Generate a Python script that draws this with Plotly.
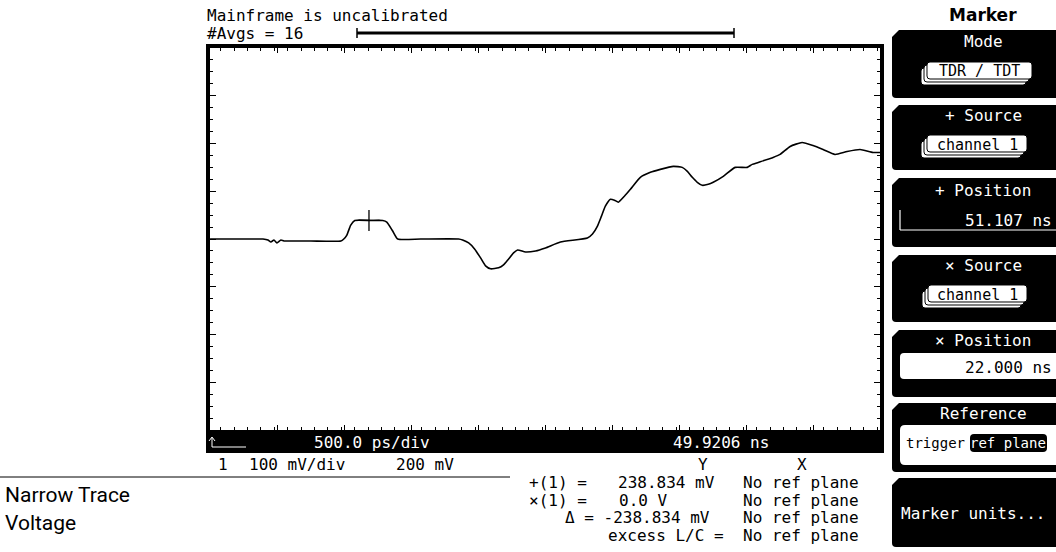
import plotly.graph_objects as go

W, H = 1056, 552

time_ns = [49.921, 50.241, 50.316, 50.353, 50.375, 50.398, 50.420, 50.450, 50.472, 50.524, 50.673, 50.897,
           50.919, 50.942, 50.971, 51.001, 51.120, 51.210, 51.240, 51.284, 51.322, 51.493, 51.776, 51.806,
           51.851, 51.895, 51.940, 51.977, 52.015, 52.074, 52.111, 52.149, 52.186, 52.216, 52.275, 52.350,
           52.424, 52.536, 52.737, 52.775, 52.812, 52.842, 52.871, 52.909, 52.939, 52.968, 53.013, 53.058,
           53.132, 53.207, 53.281, 53.378, 53.445, 53.483, 53.520, 53.557, 53.594, 53.639, 53.676, 53.751,
           53.840, 53.930, 53.967, 54.012, 54.123, 54.175, 54.250, 54.339, 54.421, 54.496, 54.585, 54.675,
           54.772, 54.868, 54.921]
volt_mv = [200.0, 200.0, 200.0, 197.9, 193.8, 197.9, 191.7, 197.9, 195.8, 195.8, 195.8, 195.8,
           200.0, 208.3, 229.2, 238.8, 238.8, 238.8, 235.4, 216.7, 200.0, 200.0, 200.0, 197.9,
           191.7, 179.2, 160.4, 143.8, 137.5, 139.6, 145.8, 158.3, 170.8, 177.1, 172.9, 175.0,
           181.3, 193.8, 202.1, 210.4, 227.1, 247.9, 268.8, 283.3, 281.3, 277.1, 289.6, 304.2,
           329.2, 339.6, 345.8, 352.1, 350.0, 341.7, 329.2, 318.8, 312.5, 314.6, 318.8, 331.3,
           350.0, 350.0, 356.3, 360.4, 370.8, 377.1, 393.8, 402.1, 395.8, 387.5, 377.1, 383.3,
           387.5, 381.3, 381.3]

marker_x_ns = 51.107
marker_y_mv = 238.834
x_start_ns = 49.9206
ns_per_div = 0.5
mv_per_div = 100
offset_mv = 200

MONO = "DejaVu Sans Mono"

# ---------------- helpers (pixel -> paper) ----------------
def X(x): return x / W
def Y(y): return 1 - y / H

shapes = []
anns = []

def text(s, x, y, anchor="left", color="black", size=16, family=MONO):
    anns.append(dict(text=s, x=X(x), y=Y(y), xref="paper", yref="paper", xanchor=anchor,
                     yanchor="middle", showarrow=False, borderpad=0,
                     font=dict(family=family, size=size, color=color)))

def line(x0, y0, x1, y1, color="black", width=1):
    shapes.append(dict(type="line", xref="paper", yref="paper", x0=X(x0), y0=Y(y0), x1=X(x1), y1=Y(y1),
                       line=dict(color=color, width=width), layer="above"))

def rect(x0, y0, x1, y1, fill="black", lc=None, lw=0):
    shapes.append(dict(type="rect", xref="paper", yref="paper", x0=X(x0), y0=Y(y0), x1=X(x1), y1=Y(y1),
                       fillcolor=fill, line=dict(color=lc or fill, width=lw), layer="above"))

def pt(x, y): return f"{X(x):.5f},{Y(y):.5f}"

def path(d, fill="black", lc=None, lw=0):
    shapes.append(dict(type="path", xref="paper", yref="paper", path=d, fillcolor=fill,
                       line=dict(color=lc or fill, width=lw), layer="above"))

def rrect(x0, y0, x1, y1, r=3, fill="white", lc="black", lw=1):
    d = (f"M{pt(x0 + r, y0)} L{pt(x1 - r, y0)} Q{pt(x1, y0)} {pt(x1, y0 + r)} "
         f"L{pt(x1, y1 - r)} Q{pt(x1, y1)} {pt(x1 - r, y1)} L{pt(x0 + r, y1)} "
         f"Q{pt(x0, y1)} {pt(x0, y1 - r)} L{pt(x0, y0 + r)} Q{pt(x0, y0)} {pt(x0 + r, y0)} Z")
    path(d, fill=fill, lc=lc, lw=lw)

def key(y0, y1, x0=892, x1=1060, c=7, r=4):
    d = (f"M{pt(x0 + c, y0)} L{pt(x1, y0)} L{pt(x1, y1)} L{pt(x0 + r, y1)} "
         f"Q{pt(x0, y1)} {pt(x0, y1 - r)} L{pt(x0, y0 + c)} Z")
    path(d, fill="black")

def stack_button(x0, y0, x1, y1, label):
    for off in (6, 3, 0):
        rrect(x0 - off, y0 + off, x1 - off, y1 + off, r=3, fill="white", lc="black", lw=1)
    text(label, (x0 + x1) / 2, (y0 + y1) / 2 + 1, anchor="center", size=15)

# ---------------- figure ----------------
fig = go.Figure()
fig.add_trace(go.Scatter(x=time_ns, y=volt_mv, mode="lines",
                         line=dict(color="black", width=1.6, shape="spline", smoothing=0.5),
                         hoverinfo="skip", showlegend=False))
fig.add_trace(go.Scatter(x=[marker_x_ns], y=[marker_y_mv], mode="markers",
                         marker=dict(symbol="cross-thin", size=15, line=dict(color="black", width=1.3)),
                         hoverinfo="skip", showlegend=False))

x_range = [x_start_ns, x_start_ns + 10 * ns_per_div]
y_range = [offset_mv - 4 * mv_per_div, offset_mv + 4 * mv_per_div]

PX0, PX1, PY0, PY1 = 210, 880, 48, 430

fig.update_xaxes(range=x_range, domain=[X(PX0), X(PX1)], showgrid=False, zeroline=False,
                 showticklabels=False, showline=True, linecolor="black", linewidth=4, mirror="allticks",
                 ticks="inside", ticklen=5, tickwidth=1, tickcolor="black",
                 tick0=x_start_ns, dtick=ns_per_div,
                 minor=dict(ticks="inside", ticklen=3, tickwidth=1, tickcolor="black",
                            dtick=ns_per_div / 5, showgrid=False))
fig.update_yaxes(range=y_range, domain=[Y(PY1), Y(PY0)], showgrid=False, zeroline=False,
                 showticklabels=False, showline=True, linecolor="black", linewidth=4, mirror="allticks",
                 ticks="inside", ticklen=6, tickwidth=1, tickcolor="black",
                 tick0=y_range[0], dtick=mv_per_div,
                 minor=dict(ticks="inside", ticklen=3, tickwidth=1, tickcolor="black",
                            dtick=mv_per_div / 4, showgrid=False))

# top texts and record bar
text("Mainframe is uncalibrated", 206, 15)
text("#Avgs = 16", 206, 33)
line(357, 33, 734, 33, width=3)
line(357, 28, 357, 38, width=1.5)
line(734, 28, 734, 38, width=1.5)

# bottom black bar of the display
rect(206, 430, 884, 453, fill="black")
line(212, 438, 212, 447, color="white", width=1)
line(212, 447, 246, 447, color="white", width=1)
line(212, 437, 209, 441, color="white", width=1)
line(212, 437, 215, 441, color="white", width=1)
text("500.0 ps/div", 313, 442, color="white")
text("49.9206 ns", 672, 442, color="white")

# scale line
text("1", 217, 464)
text("100 mV/div", 248, 464)
text("200 mV", 395, 464)

# marker readout
text("Y", 703, 464, anchor="center")
text("X", 802, 464, anchor="center")
text("+(1) =", 528, 482)
text("238.834 mV", 617, 482)
text("\u00d7(1) =", 528, 500)
text("0.0 V", 618, 500)
text("\u0394 = -238.834 mV", 564, 517)
text("excess L/C =", 607, 535)
for yy in (482, 500, 517, 535):
    text("No ref plane", 742, yy)

# caption on the left
line(0, 477, 510, 477, width=1)
text("Narrow Trace", 4, 495, size=21, family="Roboto")
text("Voltage", 4, 523, size=21, family="Roboto")

# ---------------- softkey menu ----------------
text("<b>Marker</b>", 983, 15, anchor="center", size=17, family="DejaVu Sans")
keys = [(30, 98), (105, 170), (178, 247), (255, 322), (330, 397), (403, 472), (478, 547)]
for y0, y1 in keys:
    key(y0, y1)

text("Mode", 983, 41, anchor="center", color="white")
stack_button(927, 62, 1032, 79, "TDR / TDT")

text("+ Source", 983, 115, anchor="center", color="white")
stack_button(927, 135, 1027, 152, "channel 1")

text("+ Position", 983, 190, anchor="center", color="white")
line(900, 210, 900, 230, color="white", width=1.2)
line(900, 230, 1060, 230, color="white", width=1.2)
text("51.107 ns", 1053, 220, anchor="right", color="white")

text("\u00d7 Source", 983, 265, anchor="center", color="white")
stack_button(928, 285, 1027, 302, "channel 1")

text("\u00d7 Position", 983, 340, anchor="center", color="white")
rrect(900, 353, 1062, 379, r=4, fill="white", lc="white", lw=0)
text("22.000 ns", 1053, 367, anchor="right")

text("Reference", 983, 413, anchor="center", color="white")
rrect(900, 425, 1062, 465, r=5, fill="white", lc="white", lw=0)
text("trigger", 905, 443, size=14)
rrect(970, 434, 1047, 452, r=4, fill="black", lc="black", lw=0)
text("ref plane", 1008, 443, anchor="center", color="white", size=14)

text("Marker units...", 900, 513, color="white", size=16)

fig.update_layout(width=W, height=H, margin=dict(l=0, r=0, t=0, b=0, pad=0),
                  paper_bgcolor="white", plot_bgcolor="white",
                  shapes=shapes, annotations=anns, showlegend=False)

fig.write_html("out.html",
               config={"displayModeBar": False, "staticPlot": True},
               post_script="document.body.style.margin='0';document.body.style.padding='0';"
                           "document.body.style.overflow='hidden';")
